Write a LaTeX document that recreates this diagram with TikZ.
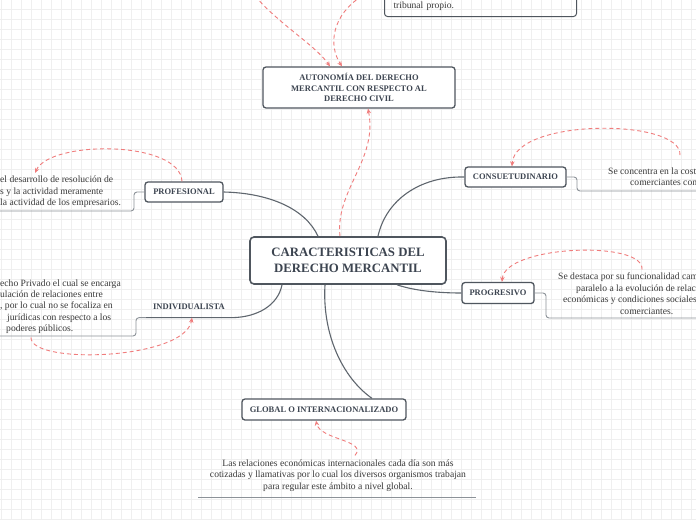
\documentclass[tikz,border=0pt]{standalone}
\usepackage{fontspec}
\setmainfont{Liberation Serif}
\usetikzlibrary{arrows.meta,positioning,calc}
\definecolor{Slate}{HTML}{3C4450}
\definecolor{Frame}{HTML}{4F565E}
\definecolor{Wire}{HTML}{5F666E}
\definecolor{Rule}{HTML}{8C9298}
\definecolor{Coral}{HTML}{F07C7C}
\definecolor{Ink}{HTML}{3A3A3A}
\definecolor{Grid}{HTML}{EFEFEF}

\begin{document}
\begin{tikzpicture}[x=1pt,y=-1pt,
    topic/.style={draw=Frame,line width=1.3pt,rounded corners=3pt,fill=white,inner sep=0pt,
      align=center,text=Slate,font=\bfseries\fontsize{8.5}{10.5}\selectfont},
    note/.style={inner sep=0pt,text=Ink,font=\fontsize{9.6}{11.5}\selectfont},
    wire/.style={Wire,line width=1.1pt},
    rule/.style={Rule,line width=0.9pt,rounded corners=3pt},
    link/.style={Coral,line width=0.9pt,dash pattern=on 4pt off 3pt,-{Stealth[length=5pt,width=4.5pt]}}
  ]
    \useasboundingbox (0,0) rectangle (696,520);
    \clip (0,0) rectangle (696,520);
    \fill[white] (0,0) rectangle (696,520);
    \foreach \g in {1,11,...,691}\draw[Grid,line width=0.6pt] (\g,0) -- (\g,520);
    \foreach \g in {9,19,...,519}\draw[Grid,line width=0.6pt] (0,\g) -- (696,\g);

    % topics
    \node[topic,minimum width=196pt,minimum height=47pt,line width=1.6pt,rounded corners=4pt,
      font=\bfseries\fontsize{12.8}{15.5}\selectfont] (center) at (348,260.5) {CARACTERISTICAS DEL\\DERECHO MERCANTIL};
    \node[topic,minimum width=192pt,minimum height=41pt] (autonomia) at (359,87.5) {AUTONOMÍA DEL DERECHO\\MERCANTIL CON RESPECTO AL\\DERECHO CIVIL};
    \node[topic,minimum width=78pt,minimum height=20pt] (profesional) at (184,192) {PROFESIONAL};
    \node[topic,minimum width=101pt,minimum height=20pt] (consuetudinario) at (515.5,177) {CONSUETUDINARIO};
    \node[topic,minimum width=72pt,minimum height=21pt] (progresivo) at (498,293) {PROGRESIVO};
    \node[topic,minimum width=164pt,minimum height=21pt] (global) at (324,409.5) {GLOBAL O INTERNACIONALIZADO};
    \node[topic,draw=none,fill=none,minimum width=86pt,minimum height=20pt] (individualista) at (189,307) {INDIVIDUALISTA};

    % notes
    \node[note,anchor=south west,draw=Frame,line width=1pt,rounded corners=3pt,text width=174pt,align=left,
      inner xsep=9pt,inner ysep=5pt,text height=30pt,text depth=3pt] (tribunal) at (384,17) {tribunal propio.};
    \node[note,anchor=west,align=left] (profnote) at (0,192) {el desarrollo de resolución de\\s y la actividad meramente\\la actividad de los empresarios.};
    \node[note,anchor=west,align=left,font=\fontsize{9.6}{11.2}\selectfont] (indnote) at (0,306.5) {echo Privado el cual se encarga\\ulación de relaciones entre\\, por lo cual no se focaliza en\\\hspace*{7pt}jurídicas con respecto a los\\\hspace*{6pt}poderes públicos.};
    \node[note,anchor=west,align=left] (consnote) at (608,176.5) {Se concentra en la cost\\\hspace*{22pt}comerciantes con};
    \node[note,anchor=west,align=left] (prognote) at (558,293.5) {Se destaca por su funcionalidad cam\\\hspace*{18pt}paralelo a la evolución de relaci\\\hspace*{5pt}económicas y condiciones sociales\\\hspace*{62pt}comerciantes.};
    \node[note,align=center] (globnote) at (338,475.5) {Las relaciones económicas internacionales cada día son más\\cotizadas y llamativas por lo cual los diversos organismos trabajan\\para regular este ámbito a nivel global.};
    \coordinate (offleft) at (255,-4);
    \coordinate (offtop) at (362,-4);

    % branches
    \draw[wire] ([xshift=-30pt]center.north) .. controls (305,208) and (268,193) .. (profesional.east);
    \draw[wire] ([xshift=30pt]center.north) .. controls (386,200) and (420,176) .. (consuetudinario.west);
    \draw[wire] ([xshift=49pt]center.south) .. controls (415,291) and (440,293) .. (progresivo.west);
    \draw[wire] ([xshift=-66pt]center.south) .. controls (278,305) and (258,317) .. (individualista.south east)
      -- (individualista.south west);
    \draw[wire] ([xshift=-23pt]center.south) .. controls (322,335) and (343,378) .. ([xshift=48pt]global.north);

    \draw[rule] (profesional.west) -| (134,211) -- (-2,211);
    \draw[rule] (consuetudinario.east) -| (577,191) -- (698,191);
    \draw[rule] (progresivo.east) -| (546,318) -- (698,318);
    \draw[rule] (individualista.south west) -| (136,336) -- (-2,336);
    \draw[rule] (198,497) -- (476,497);

    % relations
    \draw[link] ([xshift=-2pt]profesional.north) .. controls (180,140) and (50,140) .. ([xshift=35pt,yshift=3pt]profnote.north west);
    \draw[link] ([xshift=72pt,yshift=12pt]consnote.north west) .. controls (682,118) and (515,118) .. ([xshift=-3.5pt]consuetudinario.north);
    \draw[link] ([xshift=84pt,yshift=3pt]prognote.north west) .. controls (645,240) and (505,245) .. ([xshift=4pt]progresivo.north);
    \draw[link] ([xshift=31pt,yshift=-4pt]indnote.south west) .. controls (30,365) and (185,360) .. ([xshift=3pt]individualista.south);
    \draw[link] ([xshift=17pt,yshift=4pt]globnote.north) .. controls (368,440) and (320,440) .. ([xshift=-8pt]global.south);
    \draw[link] ([xshift=-8pt]center.north) .. controls (335,190) and (378,160) .. ([xshift=9pt]autonomia.south);
    \draw[link] (offleft) .. controls (280,25) and (315,45) .. ([xshift=-29pt]autonomia.north);
    \draw[link] (offtop) .. controls (332,15) and (328,45) .. ([xshift=-17pt]autonomia.north);
\end{tikzpicture}
\end{document}
